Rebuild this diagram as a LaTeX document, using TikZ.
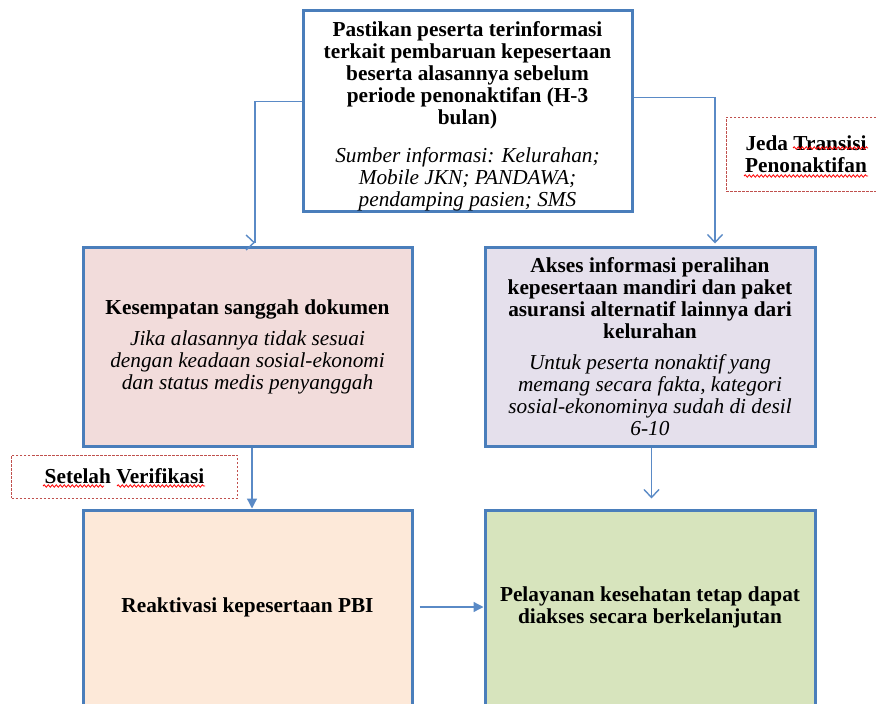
\documentclass[tikz,border=0pt]{standalone}
\usepackage{fontspec}
\setmainfont{Liberation Serif}
\usetikzlibrary{arrows.meta,decorations.pathmorphing}
\definecolor{bord}{HTML}{4A7EBB}
\definecolor{conncol}{HTML}{5A8AC6}
\definecolor{pinkf}{HTML}{F2DCDB}
\definecolor{lavf}{HTML}{E5E0EC}
\definecolor{peachf}{HTML}{FDE9D9}
\definecolor{greenf}{HTML}{D7E4BD}
\definecolor{redd}{HTML}{C0504D}
\tikzset{
  boxx/.style={draw=bord, line width=3pt, rectangle, inner sep=0pt, align=center},
  txt/.style={align=center, inner sep=0pt, font=\fontsize{21.3}{22}\selectfont},
  conn/.style={draw=conncol, line width=1.3pt},
  filltip/.style={-{Triangle[length=10pt,width=10pt]}},
  opentip/.style={-{Straight Barb[length=8pt,width=15pt,line width=1.4pt]}},
  lblbox/.style={draw=redd, line width=0.9pt, dash pattern=on 2.5pt off 1.5pt, inner sep=0pt},
  squig/.style={draw=red, line width=0.8pt, decorate, decoration={snake, amplitude=1.2pt, segment length=4pt}}
}
\begin{document}
\begin{tikzpicture}[x=1pt,y=-1pt]
\useasboundingbox (0,0) rectangle (876,704);
% boxes
\node[boxx, fill=white, minimum width=329, minimum height=201] (top) at (467.5,110.5) {};
\node[txt] (toptext) at (467.5,116) {\textbf{Pastikan peserta terinformasi}\\\textbf{terkait pembaruan kepesertaan}\\\textbf{beserta alasannya sebelum}\\\textbf{periode penonaktifan (H-3}\\\textbf{bulan)}\\[16pt]\textit{Sumber informasi: Kelurahan;}\\\textit{Mobile JKN; PANDAWA;}\\\textit{pendamping pasien; SMS}};
\node[boxx, fill=pinkf, minimum width=329, minimum height=199] (kes) at (247.5,346.5) {};
\node[txt] (kestext) at (247.5,347) {\textbf{Kesempatan sanggah dokumen}\\[9pt]\textit{Jika alasannya tidak sesuai}\\\textit{dengan keadaan sosial-ekonomi}\\\textit{dan status medis penyanggah}};
\node[boxx, fill=lavf, minimum width=330, minimum height=199] (akses) at (650,346.5) {};
\node[txt] (aksestext) at (650,347) {\textbf{Akses informasi peralihan}\\\textbf{kepesertaan mandiri dan paket}\\\textbf{asuransi alternatif lainnya dari}\\\textbf{kelurahan}\\[9pt]\textit{Untuk peserta nonaktif yang}\\\textit{memang secara fakta, kategori}\\\textit{sosial-ekonominya sudah di desil}\\\textit{6-10}};
\node[boxx, fill=peachf, minimum width=329, minimum height=220] (rk) at (247.5,620) {};
\node[txt] (rktext) at (247.5,607) {\textbf{Reaktivasi kepesertaan PBI}};
\node[boxx, fill=greenf, minimum width=330, minimum height=220] (pel) at (650,620) {};
\node[txt] (peltext) at (650,607) {\textbf{Pelayanan kesehatan tetap dapat}\\\textbf{diakses secara berkelanjutan}};
% label boxes
\node[lblbox, minimum width=152, minimum height=74] (jeda) at (802,154) {};
\node[txt] (jedatext) at (806,154) {\textbf{Jeda Transisi}\\\textbf{Penonaktifan}};
\node[lblbox, minimum width=226, minimum height=43] (setv) at (124.5,476.5) {};
\node[txt] (setvtext) at (124.5,476) {\textbf{Setelah Verifikasi}};
% spell-check squiggles
\draw[squig] (793,148) -- (868,148);
\draw[squig] (744,176) -- (868,176);
\draw[squig] (43,486) -- (104,486);
\draw[squig] (117,486) -- (205,486);
% connectors
\draw[conn] ([yshift=9pt]top.west) -| ([xshift=7.5pt,yshift=3pt]kes.north) coordinate (kesin);
\draw[conn, opentip] (kesin) -- ++(0.1,0);
\draw[conn, opentip] ([yshift=13pt]top.east) -| ([xshift=65pt,yshift=2pt]akses.north);
\draw[conn, filltip] ([xshift=4.5pt]kes.south) -- ([xshift=4.5pt]kes.south |- rk.north);
\draw[conn, opentip] ([xshift=1.5pt]akses.south) -- ([xshift=1.5pt,yshift=10pt]akses.south |- pel.north);
\draw[conn, filltip] ([xshift=6pt]rk.east |- rktext) -- (pel.west |- rktext);
\end{tikzpicture}
\end{document}
